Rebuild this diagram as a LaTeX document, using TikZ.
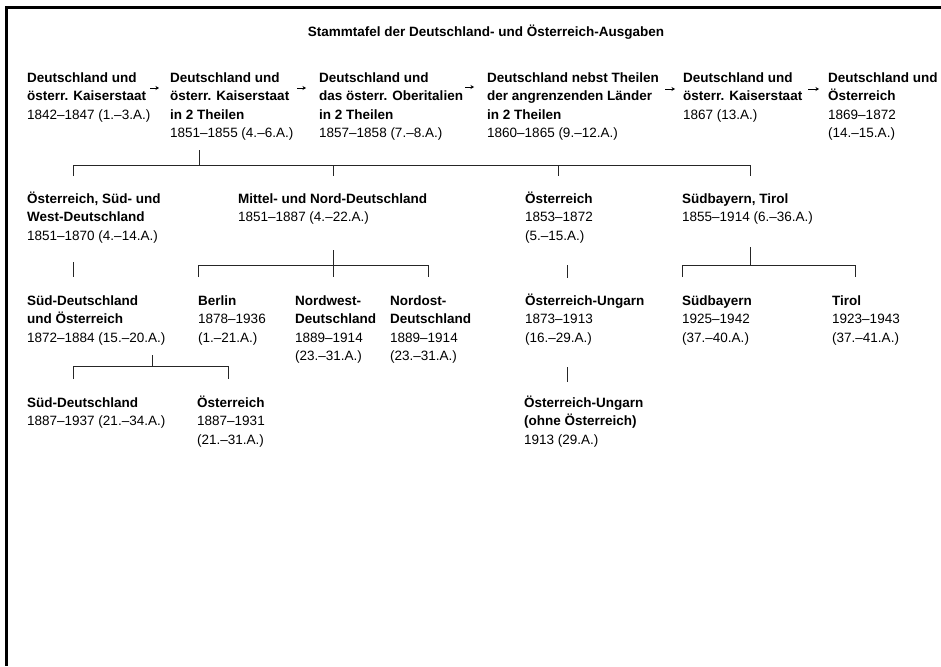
\documentclass[tikz,border=0pt]{standalone}
\usepackage{fontspec}
\setmainfont{Liberation Sans}
\usetikzlibrary{arrows.meta}
\newcommand\mybf[1]{\textbf{#1}}
\begin{document}
\begin{tikzpicture}[x=1pt,y=-1pt,
 entry/.style={anchor=north west, inner sep=0pt, align=left, font=\fontsize{13.5}{18.5}\selectfont},
 conn/.style={line width=0.8pt, draw=black!85},
 arr/.style={line width=0.9pt, -{Stealth[length=3.5pt,width=4pt]}},
 frameline/.style={line width=3pt}]
\useasboundingbox (0,0) rectangle (941,666);
\coordinate (fTR) at (941,8);
\coordinate (fTL) at (6.5,8);
\coordinate (fBL) at (6.5,666);
\draw[frameline] (fTR) -- (fTL) -- (fBL);

\node[font=\bfseries\fontsize{13.5}{16}\selectfont] (title) at (486,32) {Stammtafel der Deutschland- und Österreich-Ausgaben};

% row 1
\node[entry] (a1) at (27,69) {\strut\mybf{Deutschland und}\\\mybf{österr. Kaiserstaat}\\1842–1847 (1.–3.A.)};
\node[entry] (a2) at (170,69) {\strut\mybf{Deutschland und}\\\mybf{österr. Kaiserstaat}\\\mybf{in 2 Theilen}\\1851–1855 (4.–6.A.)};
\node[entry] (a3) at (319,69) {\strut\mybf{Deutschland und}\\\mybf{das österr. Oberitalien}\\\mybf{in 2 Theilen}\\1857–1858 (7.–8.A.)};
\node[entry] (a4) at (487,69) {\strut\mybf{Deutschland nebst Theilen}\\\mybf{der angrenzenden Länder}\\\mybf{in 2 Theilen}\\1860–1865 (9.–12.A.)};
\node[entry] (a5) at (683,69) {\strut\mybf{Deutschland und}\\\mybf{österr. Kaiserstaat}\\1867 (13.A.)};
\node[entry] (a6) at (828,69) {\strut\mybf{Deutschland und}\\\mybf{Österreich}\\1869–1872\\(14.–15.A.)};

\coordinate (r1s) at (150,88); \coordinate (r1e) at (159,88);
\coordinate (r2s) at (297,88); \coordinate (r2e) at (306,88);
\coordinate (r3s) at (465,87); \coordinate (r3e) at (474,87);
\coordinate (r4s) at (665,89); \coordinate (r4e) at (675,89);
\coordinate (r5s) at (808,89); \coordinate (r5e) at (819,89);
\draw[arr] (r1s) -- (r1e);
\draw[arr] (r2s) -- (r2e);
\draw[arr] (r3s) -- (r3e);
\draw[arr] (r4s) -- (r4e);
\draw[arr] (r5s) -- (r5e);

% row 2
\node[entry] (b1) at (27,190) {\strut\mybf{Österreich, Süd- und}\\\mybf{West-Deutschland}\\1851–1870 (4.–14.A.)};
\node[entry] (b2) at (238,190) {\strut\mybf{Mittel- und Nord-Deutschland}\\1851–1887 (4.–22.A.)};
\node[entry] (b3) at (525,190) {\strut\mybf{Österreich}\\1853–1872\\(5.–15.A.)};
\node[entry] (b4) at (682,190) {\strut\mybf{Südbayern, Tirol}\\1855–1914 (6.–36.A.)};

% connectors row1 -> row2
\coordinate (ja) at (199,150);
\coordinate (jb) at (199,165);
\coordinate (hL) at (73,165);
\coordinate (hR) at (750,165);
\draw[conn] (ja) -- (jb);
\draw[conn] (73,176) -- (hL) -- (hR) -- (750,176);
\draw[conn] (333,165) -- (333,176);
\draw[conn] (558,165) -- (558,176);

% row 3
\node[entry] (c1) at (27,292) {\strut\mybf{Süd-Deutschland}\\\mybf{und Österreich}\\1872–1884 (15.–20.A.)};
\node[entry] (c2) at (198,292) {\strut\mybf{Berlin}\\1878–1936\\(1.–21.A.)};
\node[entry] (c3) at (295,292) {\strut\mybf{Nordwest-}\\\mybf{Deutschland}\\1889–1914\\(23.–31.A.)};
\node[entry] (c4) at (390,292) {\strut\mybf{Nordost-}\\\mybf{Deutschland}\\1889–1914\\(23.–31.A.)};
\node[entry] (c5) at (525,292) {\strut\mybf{Österreich-Ungarn}\\1873–1913\\(16.–29.A.)};
\node[entry] (c6) at (682,292) {\strut\mybf{Südbayern}\\1925–1942\\(37.–40.A.)};
\node[entry] (c7) at (832,292) {\strut\mybf{Tirol}\\1923–1943\\(37.–41.A.)};

% connectors row2 -> row3
\draw[conn] (73,262) -- (73,277);
\draw[conn] (333,250) -- (333,265);
\draw[conn] (198,277) -- (198,265) -- (428,265) -- (428,277);
\draw[conn] (333,265) -- (333,277);
\draw[conn] (567,265) -- (567,278);
\draw[conn] (750,247) -- (750,265);
\draw[conn] (682,277) -- (682,265) -- (855,265) -- (855,277);

% row 4
\node[entry] (d1) at (27,394) {\strut\mybf{Süd-Deutschland}\\1887–1937 (21.–34.A.)};
\node[entry] (d2) at (197,394) {\strut\mybf{Österreich}\\1887–1931\\(21.–31.A.)};
\node[entry] (d3) at (524,394) {\strut\mybf{Österreich-Ungarn}\\\mybf{(ohne Österreich)}\\1913 (29.A.)};

% connectors row3 -> row4
\draw[conn] (152,355) -- (152,366);
\draw[conn] (73,379) -- (73,366) -- (228,366) -- (228,379);
\draw[conn] (567,367) -- (567,382);
\end{tikzpicture}
\end{document}
